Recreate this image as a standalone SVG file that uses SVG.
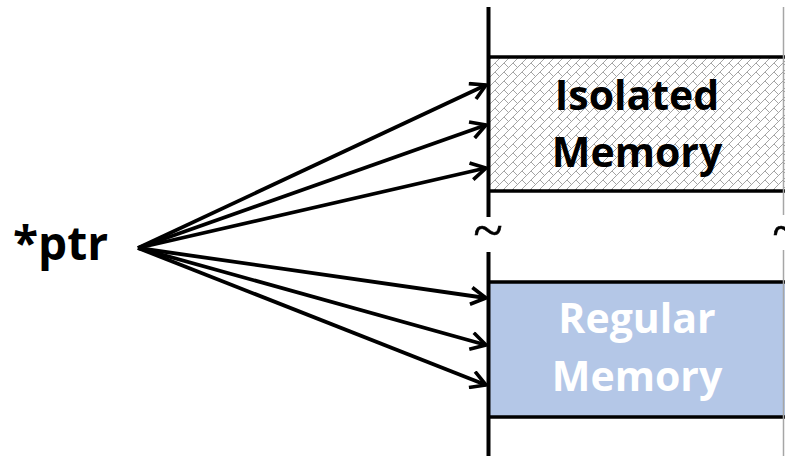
<svg xmlns="http://www.w3.org/2000/svg" width="785" height="456" viewBox="0 0 785 456">
  <style>
    .lbl { font-family: "Open Sans", "Liberation Sans", sans-serif; font-weight: bold; font-size: 41px; text-anchor: middle; }
    .edge { stroke: #000; stroke-width: 3.5; fill: none; }
    .conn { stroke: #000; stroke-width: 3.8; fill: none; marker-end: url(#arrow); }
    .tilde { font-family: "Liberation Serif", serif; font-size: 54px; text-anchor: middle; stroke: #000; stroke-width: 0.6; }
  </style>
  <defs>
    <pattern id="hatch" width="9" height="9" patternUnits="userSpaceOnUse">
      <rect width="9" height="9" fill="#fff"/>
      <path d="M0 9 L9 0 M-2 2 L2 -2 M7 11 L11 7" stroke="#a4a4a4" stroke-width="1"/>
      <path d="M0 0 L4 4" stroke="#a4a4a4" stroke-width="1"/>
    </pattern>
    <marker id="arrow" viewBox="0 0 20 20" refX="18" refY="10" markerWidth="20" markerHeight="20" markerUnits="userSpaceOnUse" orient="auto">
      <path d="M3 1.5 L18 10 L3 18.5" fill="none" stroke="#000" stroke-width="3.6"/>
    </marker>
  </defs>

  <rect width="785" height="456" fill="#fff"/>

  <!-- memory boxes -->
  <g id="isolated">
    <rect x="488" y="57" width="300" height="134" fill="url(#hatch)"/>
    <line class="edge" x1="488" y1="57" x2="785" y2="57"/>
    <line class="edge" x1="488" y1="191" x2="785" y2="191"/>
    <text class="lbl" x="637" y="110">Isolated</text>
    <text class="lbl" x="637" y="167">Memory</text>
  </g>
  <g id="regular">
    <rect x="488" y="282" width="300" height="135" fill="#b4c7e7"/>
    <line class="edge" x1="488" y1="282" x2="785" y2="282"/>
    <line class="edge" x1="488" y1="417" x2="785" y2="417"/>
    <text class="lbl" x="637" y="333" fill="#fff">Regular</text>
    <text class="lbl" x="637" y="391" fill="#fff">Memory</text>
  </g>

  <!-- address space edges with break -->
  <g id="space">
    <line x1="488.5" y1="7" x2="488.5" y2="217" stroke="#000" stroke-width="4"/>
    <line x1="488.5" y1="252" x2="488.5" y2="456" stroke="#000" stroke-width="4"/>
    <line x1="783.5" y1="7" x2="783.5" y2="215" stroke="#a6a6a6" stroke-width="1.5"/>
    <line x1="783.5" y1="250" x2="783.5" y2="456" stroke="#a6a6a6" stroke-width="1.5"/>
    <text class="tilde" x="488" y="249">~</text>
    <text class="tilde" x="787" y="249">~</text>
  </g>

  <g id="ptr">
    <text x="13" y="260" font-family="Open Sans, Liberation Sans, sans-serif" font-weight="bold" font-size="46">*ptr</text>
  </g>

  <!-- pointers -->
  <g id="connectors">
    <line class="conn" x1="138" y1="248" x2="486" y2="85"/>
    <line class="conn" x1="138" y1="248" x2="486" y2="125"/>
    <line class="conn" x1="138" y1="248" x2="486" y2="168"/>
    <line class="conn" x1="138" y1="248" x2="486" y2="298"/>
    <line class="conn" x1="138" y1="248" x2="486" y2="345"/>
    <line class="conn" x1="138" y1="248" x2="486" y2="385"/>
  </g>
</svg>
